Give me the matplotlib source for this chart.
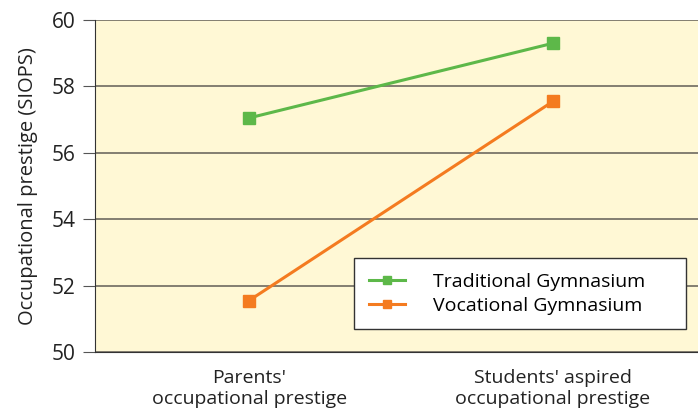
import matplotlib.pyplot as plt

# data
categories = ["Parents'\noccupational prestige", "Students' aspired\noccupational prestige"]
traditional = [57.05, 59.3]
vocational = [51.55, 57.55]
yticks = [50, 52, 54, 56, 58, 60]

plt.rcParams['font.family'] = ['Open Sans', 'DejaVu Sans']

fig = plt.figure(figsize=(6.98, 4.15), dpi=100)
ax = fig.add_axes([95/698, 63/415, 1 - 95/698, 332/415])
ax.set_facecolor('#FFF8D5')

x = list(range(len(categories)))
ax.plot(x, traditional, color='#5DB849', lw=2.2, marker='s', ms=9, label='Traditional Gymnasium')
ax.plot(x, vocational, color='#F47B20', lw=2.2, marker='s', ms=9, label='Vocational Gymnasium')

ax.set_ylim(50, 60)
ax.set_xlim(-0.507, 1.477)
ax.set_yticks(yticks)
ax.set_xticks(x)
ax.set_xticklabels(categories, fontsize=14, color='#222222', linespacing=1.25)
ax.tick_params(axis='y', labelsize=15, colors='#222222', length=9, color='#555555', pad=5)
ax.tick_params(axis='x', length=0, pad=12)
ax.yaxis.grid(True, color='#6E6A60', lw=1.2)
ax.set_axisbelow(True)
for s in ['top', 'right']:
    ax.spines[s].set_visible(False)
ax.spines['left'].set_color('#333333')
ax.spines['bottom'].set_color('#333333')
ax.set_ylabel('Occupational prestige (SIOPS)', fontsize=14.5, color='#222222', labelpad=10)

# legend box stretched to the width seen in the reference
leg = ax.legend(loc='lower left', bbox_to_anchor=(0.4295, 0.069, 0.5506, 0.223), mode='expand',
                fontsize=14, frameon=True, fancybox=False, edgecolor='#333333', framealpha=1,
                borderpad=0.75, labelspacing=0.3, handlelength=1.85, handletextpad=1.45,
                markerscale=0.7, borderaxespad=0)
leg.get_frame().set_linewidth(1.0)

fig.savefig('out.png', dpi=100)
